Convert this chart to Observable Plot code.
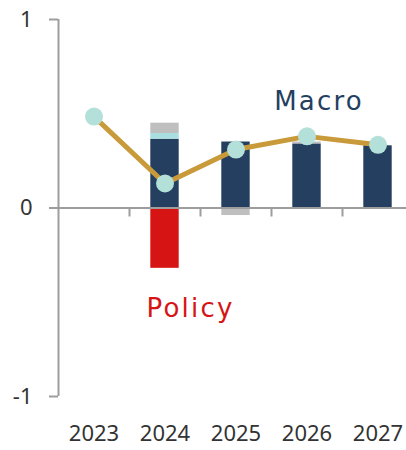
<!DOCTYPE html>
<html><head><meta charset="utf-8">
<script src="https://cdn.jsdelivr.net/npm/d3@7"></script>
<script src="https://cdn.jsdelivr.net/npm/@observablehq/plot@0.6"></script>
<style>html,body{margin:0;padding:0;background:#fff}#chart svg{display:block}</style>
</head><body><div id="chart"></div>
<script>
const years = [2023, 2024, 2025, 2026, 2027];
const macro = [0, 0.365, 0.35, 0.34, 0.33];
const other = [0, 0.03, 0, 0, 0];
const residual = [0, 0.055, -0.04, 0.01, 0];
const policy = [0, -0.32, 0, 0, 0];
const total = [0.485, 0.13, 0.31, 0.38, 0.335];
const yTicks = [-1, 0, 1];
const seriesNames = ["Macro", "Other", "Residual", "Policy"];
const seriesColors = ["#243F5F", "#A9DFE0", "#BFBFBF", "#D71414"];
const labelText = ["Macro", "Policy"];
const labelX = [2026.17, 2024.36];
const labelY = [0.565, -0.534];

const seriesValues = [macro, other, residual, policy];
const rows = years.flatMap((yr, i) => seriesNames.map((s, j) => ({year: yr, series: s, value: seriesValues[j][i]})));
const colorOf = s => seriesColors[seriesNames.indexOf(s)];
const labels = labelText.map((t, i) => ({text: t, x: labelX[i], y: labelY[i]}));
const boundaries = years.slice(1).map(y => y - 0.5);
const xDomain = [years[0] - 0.5, years[years.length - 1] + 0.5];
const half = 0.2;
const axisGray = "#9d9d9d";

const chart = Plot.plot({
  width: 406,
  height: 450,
  marginLeft: 58,
  marginRight: 0,
  marginTop: 19,
  marginBottom: 54,
  style: {fontFamily: "'Noto Sans', sans-serif", fontSize: "22px", color: "#333", background: "#fff"},
  x: {domain: xDomain, range: [58, 413], label: null},
  y: {domain: [-1, 1], label: null},
  color: {type: "identity"},
  marks: [
    Plot.rectY(rows, Plot.stackY({
      x1: d => d.year - half, x2: d => d.year + half, y: "value", z: "series",
      fill: d => colorOf(d.series)
    })),
    Plot.ruleX([xDomain[0]], {stroke: axisGray, strokeWidth: 2}),
    Plot.ruleY([0], {stroke: axisGray, strokeWidth: 2}),
    Plot.ruleX(boundaries, {x: d => d, y1: 0, y2: 0, insetBottom: -9, stroke: axisGray, strokeWidth: 2}),
    Plot.axisY(yTicks, {tickSize: 9, tickPadding: 17, fontSize: 22, stroke: axisGray, strokeWidth: 2, fill: "#333", tickFormat: d => String(d), label: null}),
    Plot.axisX(years, {tickSize: 0, tickPadding: 29, fontSize: 22, fill: "#333", tickFormat: d => String(d), label: null}),
    Plot.line(years, {x: d => d, y: (d, i) => total[i], stroke: "#C99A3A", strokeWidth: 5, strokeLinejoin: "round"}),
    Plot.dot(years, {x: d => d, y: (d, i) => total[i], r: 9, fill: "#B3E0D8", stroke: null}),
    Plot.text(labels, {x: "x", y: "y", text: "text", fill: d => colorOf(d.text), fontSize: 26, fontFamily: "'DejaVu Sans', sans-serif"})
  ]
});
d3.select(chart).selectAll('g[aria-label="text"] text').attr("letter-spacing", "2.2px");
document.getElementById("chart").appendChild(chart);
</script>
</body></html>
